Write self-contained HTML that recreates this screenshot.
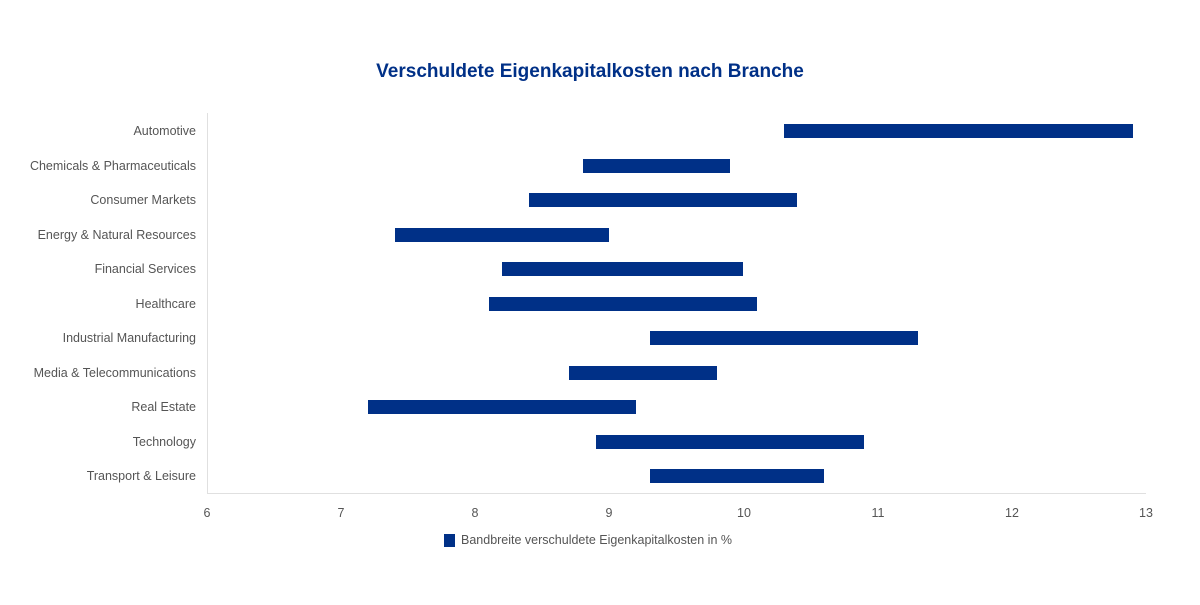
<!DOCTYPE html>
<html><head><meta charset="utf-8"><style>
body{margin:0;background:#fff;}
svg text{font-family:"Liberation Sans",Arial,sans-serif;}
</style></head><body>
<svg width="1200" height="600" xmlns="http://www.w3.org/2000/svg">
<rect width="1200" height="600" fill="#fff"/>
<text x="590" y="77" text-anchor="middle" font-size="19" font-weight="bold" fill="#003087">Verschuldete Eigenkapitalkosten nach Branche</text>
<line x1="207.5" y1="113" x2="207.5" y2="493" stroke="#e0e0e0" stroke-width="1"/>
<line x1="207" y1="493.5" x2="1146" y2="493.5" stroke="#e0e0e0" stroke-width="1"/>
<g font-size="12.5" fill="#555" text-anchor="end">
<text x="196" y="135">Automotive</text>
<text x="196" y="170">Chemicals &amp; Pharmaceuticals</text>
<text x="196" y="204">Consumer Markets</text>
<text x="196" y="239">Energy &amp; Natural Resources</text>
<text x="196" y="273">Financial Services</text>
<text x="196" y="308">Healthcare</text>
<text x="196" y="342">Industrial Manufacturing</text>
<text x="196" y="377">Media &amp; Telecommunications</text>
<text x="196" y="411">Real Estate</text>
<text x="196" y="446">Technology</text>
<text x="196" y="480">Transport &amp; Leisure</text>
</g>
<g fill="#003087">
<rect x="784" y="124" width="349" height="14"/>
<rect x="583" y="159" width="147" height="14"/>
<rect x="529" y="193" width="268" height="14"/>
<rect x="395" y="228" width="214" height="14"/>
<rect x="502" y="262" width="241" height="14"/>
<rect x="489" y="297" width="268" height="14"/>
<rect x="650" y="331" width="268" height="14"/>
<rect x="569" y="366" width="148" height="14"/>
<rect x="368" y="400" width="268" height="14"/>
<rect x="596" y="435" width="268" height="14"/>
<rect x="650" y="469" width="174" height="14"/>
</g>
<g font-size="12.5" fill="#555" text-anchor="middle">
<text x="207" y="517">6</text>
<text x="341" y="517">7</text>
<text x="475" y="517">8</text>
<text x="609" y="517">9</text>
<text x="744" y="517">10</text>
<text x="878" y="517">11</text>
<text x="1012" y="517">12</text>
<text x="1146" y="517">13</text>
</g>
<rect x="444" y="534" width="11" height="13" fill="#003087"/>
<text x="461" y="544" font-size="12.5" fill="#555">Bandbreite verschuldete Eigenkapitalkosten in %</text>
</svg>
</body></html>
